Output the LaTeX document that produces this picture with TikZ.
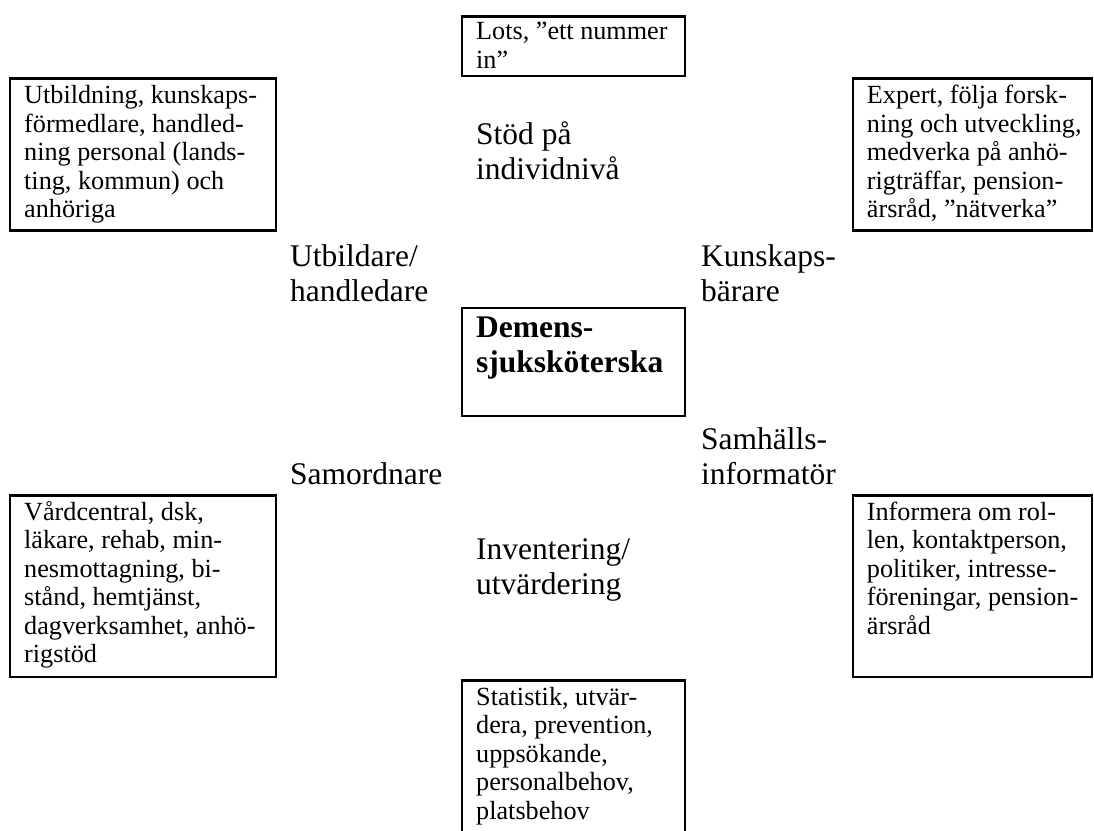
\documentclass[tikz,border=0pt]{standalone}
\usepackage{fontspec}
\setmainfont{Liberation Serif}
\newcommand{\bxstrut}{\rule{0pt}{22pt}}
\newcommand{\rlstrut}{\rule{0pt}{27pt}}
\begin{document}
\begin{tikzpicture}[x=1pt,y=-1pt,
  box/.style={draw, line width=2.7pt, rectangle, inner sep=0pt, outer sep=0pt, anchor=north west},
  boxtext/.style={anchor=north west, inner sep=0pt, align=left, font=\fontsize{26.2}{28.5}\selectfont},
  role/.style={anchor=north west, inner sep=0pt, align=left, font=\fontsize{31.5}{35.5}\selectfont}]
\useasboundingbox (0,0) rectangle (1094,830);
\clip (0,0) rectangle (1094,830);

% boxes
\node[box, minimum width=223pt, minimum height=59.5pt] (lotsbox) at (462,16.5) {};
\node[box, minimum width=266pt, minimum height=152pt] (utbbox) at (10,78.5) {};
\node[box, minimum width=239pt, minimum height=152pt] (expbox) at (853,78.5) {};
\node[box, minimum width=223pt, minimum height=108pt] (centerbox) at (462,308) {};
\node[box, minimum width=266pt, minimum height=181.5pt] (vardbox) at (10,495.5) {};
\node[box, minimum width=239pt, minimum height=181.5pt] (infobox) at (853,495.5) {};
\node[box, minimum width=223pt, minimum height=170pt] (statbox) at (462,680.5) {};

% box texts
\node[boxtext] (lotstext) at (476,17.5) {\bxstrut Lots, ”ett nummer\\in”};
\node[boxtext] (utbtext) at (24,81.3) {\bxstrut Utbildning, kunskaps-\\förmedlare, handled-\\ning personal (lands-\\ting, kommun) och\\anhöriga};
\node[boxtext] (exptext) at (866.7,81.3) {\bxstrut Expert, följa forsk-\\ning och utveckling,\\medverka på anhö-\\rigträffar, pension-\\ärsråd, ”nätverka”};
\node[boxtext] (vardtext) at (24,498) {\bxstrut Vårdcentral, dsk,\\läkare, rehab, min-\\nesmottagning, bi-\\stånd, hemtjänst,\\dagverksamhet, anhö-\\rigstöd};
\node[boxtext] (infotext) at (866.7,498) {\bxstrut Informera om rol-\\len, kontaktperson,\\politiker, intresse-\\föreningar, pension-\\ärsråd};
\node[boxtext] (stattext) at (476,683) {\bxstrut Statistik, utvär-\\dera, prevention,\\uppsökande,\\personalbehov,\\platsbehov};

% role labels
\node[role] (stod) at (476,117) {\rlstrut Stöd på\\individnivå};
\node[role] (utbildare) at (290,239) {\rlstrut Utbildare/\\handledare};
\node[role] (kunskap) at (701,239) {\rlstrut Kunskaps-\\bärare};
\node[role, font=\fontsize{31.5}{35.5}\selectfont\bfseries] (demens) at (476,310) {\rlstrut Demens-\\sjuksköterska};
\node[role] (samhalls) at (701,422) {\rlstrut Samhälls-\\informatör};
\node[role] (samord) at (290,457) {\rlstrut Samordnare};
\node[role] (invent) at (476,532) {\rlstrut Inventering/\\utvärdering};
\end{tikzpicture}
\end{document}
